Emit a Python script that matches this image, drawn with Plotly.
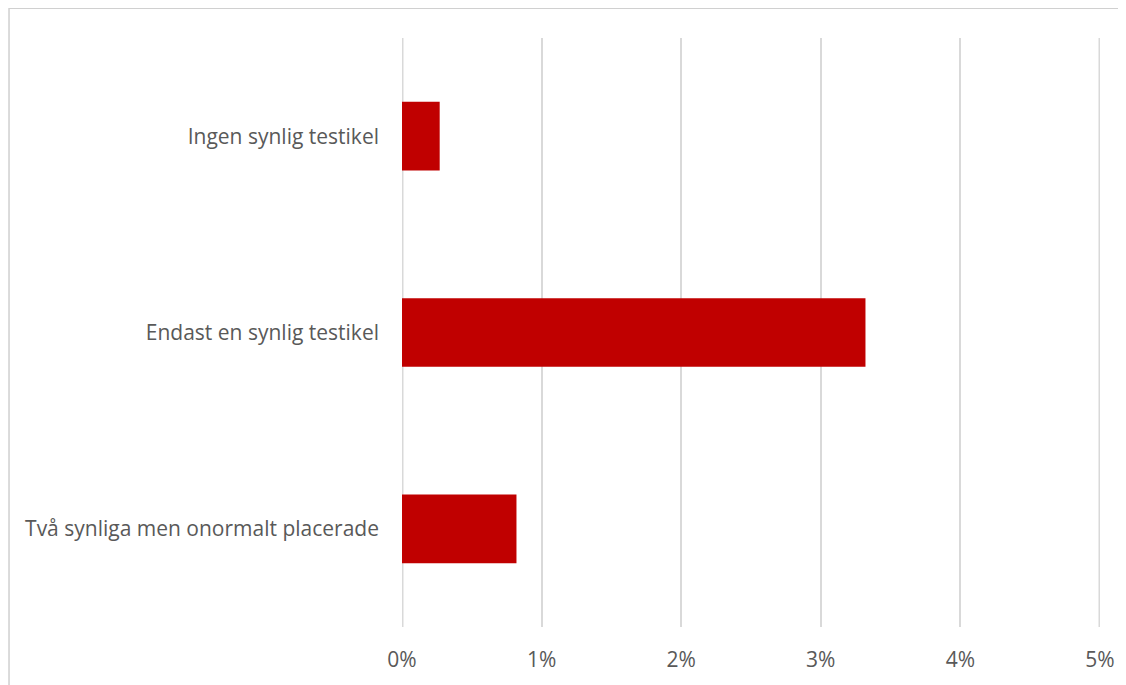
import plotly.graph_objects as go

# ── DATA ──────────────────────────────────────────────────────────────
categories = [
    "Ingen synlig testikel",
    "Endast en synlig testikel",
    "Två synliga men onormalt placerade",
]
shares = [0.0027, 0.0332, 0.0082]   # fraction of boys
tick_vals = [0, 0.01, 0.02, 0.03, 0.04, 0.05]

BAR_RED = "#c00000"
GRID = "#d9d9d9"
TEXT = "#595959"

fig = go.Figure(go.Bar(
    x=shares, y=categories,
    orientation="h",
    marker=dict(color=BAR_RED, line=dict(width=0)),
))

fig.update_xaxes(
    range=[0, 0.05], tickvals=tick_vals, tickformat=".0%",
    showgrid=True, gridcolor=GRID, gridwidth=1.5,
    zeroline=False, showline=False,
    ticklabelstandoff=18,
)
fig.update_yaxes(
    autorange="reversed", showgrid=False, zeroline=False,
    ticklabelstandoff=22,
)

# plotly drops gridlines that sit on the plot edges, so draw those two
# (shapes get clipped at the plot edge, hence the doubled width)
for v in (tick_vals[0], tick_vals[-1]):
    fig.add_vline(x=v, line=dict(color=GRID, width=3), layer="below")

# outer chart border (light gray frame)
fig.add_shape(
    type="rect", xref="paper", yref="paper",
    x0=-0.563, x1=1.2, y0=-0.3, y1=1.0505,
    line=dict(color="#d0d0d0", width=1.5), fillcolor="rgba(0,0,0,0)",
    layer="below",
)

fig.update_layout(
    width=1126, height=677,
    bargap=0.65,
    plot_bgcolor="white", paper_bgcolor="white",
    font=dict(family="Open Sans", size=21, color=TEXT),
    showlegend=False,
    margin=dict(l=394, r=34, t=30, b=58),
)

fig.write_html("out.html")
